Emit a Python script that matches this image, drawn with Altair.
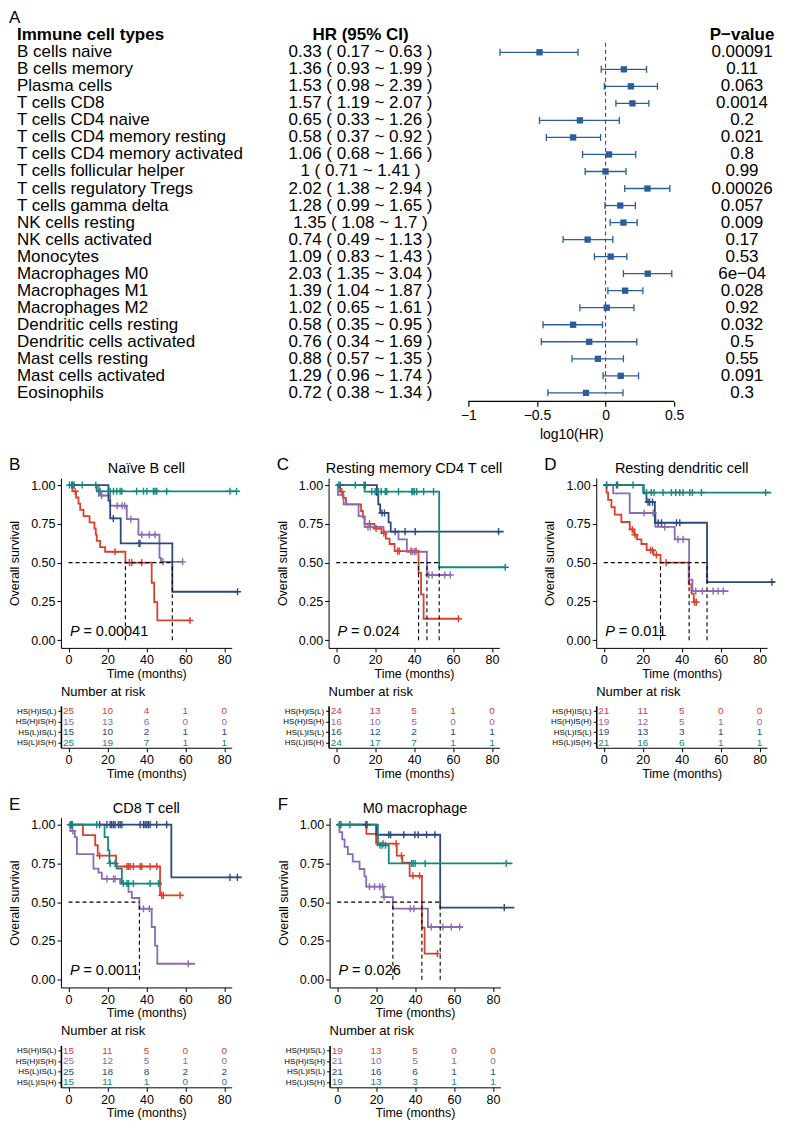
import altair as alt
import pandas as pd

FONT = "Liberation Sans"
BLUE = "#2B5C9B"

# ---------------- Panel A: forest plot data ----------------
cell_types = ["B cells naive", "B cells memory", "Plasma cells", "T cells CD8", "T cells CD4 naive",
              "T cells CD4 memory resting", "T cells CD4 memory activated", "T cells follicular helper",
              "T cells regulatory Tregs", "T cells gamma delta", "NK cells resting", "NK cells activated",
              "Monocytes", "Macrophages M0", "Macrophages M1", "Macrophages M2", "Dendritic cells resting",
              "Dendritic cells activated", "Mast cells resting", "Mast cells activated", "Eosinophils"]
hr = [0.33, 1.36, 1.53, 1.57, 0.65, 0.58, 1.06, 1, 2.02, 1.28, 1.35, 0.74, 1.09, 2.03, 1.39, 1.02,
      0.58, 0.76, 0.88, 1.29, 0.72]
hr_low = [0.17, 0.93, 0.98, 1.19, 0.33, 0.37, 0.68, 0.71, 1.38, 0.99, 1.08, 0.49, 0.83, 1.35, 1.04,
          0.65, 0.35, 0.34, 0.57, 0.96, 0.38]
hr_high = [0.63, 1.99, 2.39, 2.07, 1.26, 0.92, 1.66, 1.41, 2.94, 1.65, 1.7, 1.13, 1.43, 3.04, 1.87,
           1.61, 0.95, 1.69, 1.35, 1.74, 1.34]
p_values = ["0.00091", "0.11", "0.063", "0.0014", "0.2", "0.021", "0.8", "0.99", "0.00026", "0.057",
            "0.009", "0.17", "0.53", "6e\u221204", "0.028", "0.92", "0.032", "0.5", "0.55", "0.091", "0.3"]
forest_ticks = [-1, -0.5, 0, 0.5]

# ---------------- Kaplan-Meier data ----------------
groups = ["HS(H)IS(L)", "HS(H)IS(H)", "HS(L)IS(L)", "HS(L)IS(H)"]
colors = ["#D8412F", "#8A6BB5", "#2C4A7E", "#14877F"]
risk_times = [0, 20, 40, 60, 80]

# each curve: (step times, survival after step, last follow-up time, censor times)
km_B = {
    "HS(H)IS(L)": ([0, 2, 3.9, 5.1, 6, 7.7, 10.8, 13.3, 14, 14.5, 16.2, 18.8, 29.2, 42.7, 44, 45.6],
                   [1, .96, .92, .88, .84, .80, .76, .72, .68, .64, .60, .57, .50, .37, .245, .127],
                   62.4, [3.4, 23.9, 31.3, 32.5, 37.6, 62.4]),
    "HS(H)IS(H)": ([0, 15.5, 21.4, 29.9, 35.9, 46.7, 47.5], [1, .933, .867, .78, .68, .53, .505],
                   58.6, [17, 25, 27.5, 28.8, 32, 37.6, 41.5, 44.4, 48.5, 58.6]),
    "HS(L)IS(L)": ([0, 20.5, 21.4, 26.8, 53.3], [1, .90, .785, .624, .312],
                   86.8, [1.7, 2.8, 23, 36.2, 36.7, 86.8]),
    "HS(L)IS(H)": ([0, 14.5], [1, .96],
                   86.3, [0.5, 2, 7, 14, 16.2, 21.4, 23.1, 24.8, 26.5, 27.4, 35, 38.5, 40.2, 43.6, 44.4,
                          45.3, 50.4, 82.9, 86.3]),
}
km_C = {
    "HS(H)IS(L)": ([0, 2, 3.5, 5, 12.8, 13.7, 14.6, 19.7, 23.3, 25.5, 27.4, 30, 42.3, 43.6, 44.9],
                   [1, .958, .917, .875, .833, .792, .75, .72, .69, .655, .62, .574, .434, .295, .138],
                   62.8, [2.9, 17.1, 20.5, 24.5, 31.5, 32.4, 38.4, 41, 62.8]),
    "HS(H)IS(H)": ([0, 0.9, 3.8, 11.5, 14.6, 24.3, 32, 36.3, 46.6], [1, .9375, .875, .80, .73, .70, .65, .57, .42],
                   58.6, [16.3, 17.5, 39, 40.2, 47.5, 49.3, 55.8, 58.6]),
    "HS(L)IS(L)": ([0, 20.9, 21.6, 22.6, 26.9, 28], [1, .9375, .875, .82, .76, .70],
                   86, [2.1, 14.9, 23.5, 24.8, 30.3, 35.4, 40.6, 83.4]),
    "HS(L)IS(H)": ([0, 14.6, 52.9], [1, .958, .47],
                   86.8, [1.2, 9.8, 14.3, 18.3, 20, 21.7, 23.1, 25.2, 26, 32, 38.9, 39.4, 40.2, 41.4,
                          44.9, 50, 86.8]),
}
km_D = {
    "HS(H)IS(L)": ([0, 1.4, 2.2, 3.9, 5.6, 9, 13.3, 15.5, 17, 19.3, 22, 25.5, 29.1, 43.6, 45, 46.2],
                   [1, .952, .905, .857, .81, .762, .714, .68, .65, .62, .58, .55, .50, .36, .30, .245],
                   48, [14.6, 16, 24, 25, 27, 32, 46.6, 47.5]),
    "HS(H)IS(H)": ([0, 4.8, 13.3, 26.5, 36.4, 43.8, 45.5], [1, .947, .82, .73, .65, .39, .316],
                   64, [20.7, 25.3, 31.3, 38.1, 40.7, 47.2, 50.6, 56.1, 58.7, 61.3]),
    "HS(L)IS(L)": ([0, 20.5, 21.9, 26.2, 53], [1, .947, .89, .757, .374],
                   88, [1.4, 7, 22.7, 23.5, 25, 27.9, 29.6, 37.3, 39, 86.3]),
    "HS(L)IS(H)": ([0, 20.2], [1, .952],
                   86, [1.4, 6.5, 15, 21.9, 24.4, 25.8, 30.4, 34.7, 36.9, 39, 40.7, 44.1, 45.5, 50.1, 83.1]),
}
km_E = {
    "HS(H)IS(L)": ([0, 7.4, 13.7, 15, 24.4, 47], [1, .933, .867, .80, .73, .544],
                   59, [0.9, 16, 30, 30.8, 31.6, 33.3, 36.8, 37.6, 41.9, 45.3, 47.9, 48.7, 57.3]),
    "HS(H)IS(H)": ([0, 1, 3.2, 4.3, 12.8, 15.4, 17.1, 26.5, 30.8, 32.5, 36.4, 42.7, 44.4, 45.6],
                   [1, .96, .92, .81, .716, .69, .65, .62, .566, .527, .458, .34, .22, .103],
                   65, [2.2, 19.7, 23.1, 23.9, 38.5, 41.5, 61.5]),
    "HS(L)IS(L)": ([0, 52.8], [1, .66],
                   89, [1.7, 16, 19.7, 21.4, 22.2, 23.1, 23.9, 25.6, 26.5, 27.4, 36.8, 38.5, 39.3, 40.2,
                        41, 41.9, 45.3, 50.4, 82.9, 86.7]),
    "HS(L)IS(H)": ([0, 18.5, 20.3, 21, 24.8, 27.4], [1, .92, .834, .75, .716, .62],
                   48, [1, 2, 14.5, 21.4, 23.9, 28.2, 30, 30.8, 33.3, 41.9, 46.2]),
}
km_F = {
    "HS(H)IS(L)": ([0, 15, 20, 30.6, 33.4, 37.2, 43.5, 44.9], [1, .94, .877, .80, .755, .67, .335, .168],
                   51.5, [23.6, 30.3, 33, 38.9, 42.3, 51.5]),
    "HS(H)IS(H)": ([0, 1.2, 2.6, 3.8, 5.5, 8, 11.5, 14, 14.9, 23.8, 28.6, 46.6],
                   [1, .952, .905, .857, .81, .762, .714, .667, .60, .533, .458, .34],
                   64.5, [16.6, 19.2, 21.9, 23.3, 24.1, 37.6, 39.4, 48.3, 54.3, 58.6, 62.9]),
    "HS(L)IS(L)": ([0, 20, 52.9], [1, .935, .465],
                   91, [1.2, 14.7, 15.3, 26.5, 27.4, 34.2, 39.9, 41.6, 45.9, 50.2, 85.8]),
    "HS(L)IS(H)": ([0, 20.9, 26.5], [1, .867, .75],
                   90, [1.2, 2, 6.5, 22, 23.1, 24.8, 38.2, 39, 40, 45.2, 86.8]),
}

risk_B = [[25, 10, 4, 1, 0], [15, 13, 6, 0, 0], [15, 10, 2, 1, 1], [25, 19, 7, 1, 1]]
risk_C = [[24, 13, 5, 1, 0], [16, 10, 5, 0, 0], [16, 12, 2, 1, 1], [24, 17, 7, 1, 1]]
risk_D = [[21, 11, 5, 0, 0], [19, 12, 5, 1, 0], [19, 13, 3, 1, 1], [21, 16, 6, 1, 1]]
risk_E = [[15, 11, 5, 0, 0], [25, 12, 5, 1, 0], [25, 18, 8, 2, 2], [15, 11, 1, 0, 0]]
risk_F = [[19, 13, 5, 0, 0], [21, 10, 5, 1, 0], [21, 16, 6, 1, 1], [19, 13, 3, 1, 1]]

panels = [
    ("B", "Na\u00efve B cell", "0.00041", km_B, risk_B),
    ("C", "Resting memory CD4 T cell", "0.024", km_C, risk_C),
    ("D", "Resting dendritic cell", "0.011", km_D, risk_D),
    ("E", "CD8 T cell", "0.0011", km_E, risk_E),
    ("F", "M0 macrophage", "0.026", km_F, risk_F),
]

one = pd.DataFrame({"k": [0]})
CROSS = "M-1,0L1,0M0,-1L0,1"
W, H = 171, 170
LEFT = 52  # how far the KM panels' letter/axis title reach left of their plot area
xsc = alt.Scale(domain=[-3.9, 83.8], nice=False, zero=False)
ysc = alt.Scale(domain=[-0.05, 1.045], nice=False, zero=False)
xax = alt.Axis(values=risk_times, title="Time (months)", labelFontSize=12.5, titleFontSize=12.5,
               tickSize=4, labelPadding=2, titlePadding=1, domainWidth=1, tickWidth=1)
yax = alt.Axis(values=[0, 0.25, 0.5, 0.75, 1], format=".2f", title="Overall survival",
               labelFontSize=12.5, titleFontSize=12.5, tickSize=4, labelPadding=2, titlePadding=9,
               domainWidth=1, tickWidth=1)
col = alt.Color("group:N", scale=alt.Scale(domain=groups, range=colors), legend=None)


def X(f):
    return alt.X(f, scale=xsc, axis=xax)


def Y(f):
    return alt.Y(f, scale=ysc, axis=yax)


def km_data(curves):
    rows, crow, meds = [], [], []
    for g, (t, s, end, cens) in curves.items():
        pts = list(zip(t, s)) + [(end, s[-1])]
        for i, (tt, ss) in enumerate(pts):
            rows.append({"group": g, "t": tt, "s": ss, "i": i})
        for c in cens:
            lvl = s[0]
            for tt, ss in zip(t, s):
                if tt <= c:
                    lvl = ss
            crow.append({"group": g, "t": c, "s": lvl})
        below = [tt for tt, ss in zip(t, s) if ss <= 0.5]
        if below:
            meds.append(below[0])
    return pd.DataFrame(rows), pd.DataFrame(crow), meds


def txt(text, x, y, size, align="left", **kw):
    return alt.Chart(one).mark_text(text=text, fontSize=size, align=align, baseline="middle", **kw).encode(
        x=alt.value(x), y=alt.value(y))


def km_panel(letter, title, pval, curves, risk):
    ldf, cdf, meds = km_data(curves)
    lines = alt.Chart(ldf).mark_line(interpolate="step-after", strokeWidth=1.8).encode(
        x=X("t:Q"), y=Y("s:Q"), color=col, detail="group:N", order="i:Q")
    cens = alt.Chart(cdf).mark_point(shape=CROSS, size=50, strokeWidth=1.4, filled=False, opacity=1).encode(
        x=X("t:Q"), y=Y("s:Q"), color=col)
    layers = [lines, cens]
    if meds:
        vdf = pd.DataFrame({"t": meds, "s": [0.0] * len(meds), "s2": [0.5] * len(meds)})
        hdf = pd.DataFrame({"t": [0.0], "t2": [max(meds)], "s": [0.5]})
        layers.append(alt.Chart(vdf).mark_rule(strokeDash=[4, 3], color="black", strokeWidth=1.1).encode(
            x=X("t:Q"), y=Y("s:Q"), y2="s2:Q"))
        layers.append(alt.Chart(hdf).mark_rule(strokeDash=[4, 3], color="black", strokeWidth=1.1).encode(
            x=X("t:Q"), x2="t2:Q", y=Y("s:Q")))
    layers.append(txt("P", 9, 154, 14.5, fontStyle="italic"))
    layers.append(txt("= " + pval, 22.5, 154, 14.5))
    layers.append(txt(letter, -LEFT, -13, 17))
    layers.append(txt(title, W / 2, -9, 14.5, align="center"))
    km = alt.layer(*layers).properties(width=W, height=H)

    rdf = pd.DataFrame([{"group": g, "t": tt, "n": n}
                        for g, ns in zip(groups, risk) for tt, n in zip(risk_times, ns)])
    rt = alt.Chart(rdf).mark_text(fontSize=10, baseline="middle").encode(
        x=X("t:Q"),
        y=alt.Y("group:N", sort=groups, scale=alt.Scale(domain=groups),
                axis=alt.Axis(title=None, labelFontSize=8, tickSize=3, labelPadding=2, domainWidth=1.6,
                              tickWidth=1)),
        text="n:Q", color=col,
    ).properties(width=W, height=42,
                 title=alt.TitleParams("Number at risk", anchor="start", frame="group", fontSize=13,
                                       fontWeight="normal", offset=7))
    return alt.vconcat(km, rt, spacing=6)


# ---------------- forest chart ----------------
# The concat layout aligns the forest's origin with the KM panels' plot origin (LEFT px in from the
# left edge), so the forest's own content starts at x = -LEFT.
fdf = pd.DataFrame({"cell": cell_types, "hr": hr, "lo": hr_low, "hi": hr_high, "p": p_values})
fdf["hrtxt"] = [f"{a:g} ( {b:g} ~ {c:g} )" for a, b, c in zip(hr, hr_low, hr_high)]
row_keys = ["_A", "_H"] + cell_types
STEP = 17.05
FW, FH = 715, STEP * len(row_keys)
yF = alt.Y("cell:N", sort=row_keys, scale=alt.Scale(type="point", padding=0.5, domain=row_keys), axis=None)
# linear x scale spanning the panel width: -1 sits at 408 px and 0.5 at 614 px
xF_scale = alt.Scale(domain=[-3.9709, 1.2355], nice=False, zero=False)
xF_axis = alt.Axis(values=forest_ticks, format="~g", title="log10(HR)", labelFontSize=14,
                   titleFontSize=14, tickSize=5, labelPadding=2, titlePadding=5, domain=False,
                   tickWidth=1.2, titleX=511)

X_NAME, X_HR, X_P = -44, 300, 682


def XF(f):
    return alt.X(f, scale=xF_scale, axis=xF_axis)


fbase = alt.Chart(fdf).transform_calculate(
    lhr="log(datum.hr)/LN10", llo="log(datum.lo)/LN10", lhi="log(datum.hi)/LN10")
TS = 17
f_names = fbase.mark_text(align="left", baseline="middle", fontSize=TS).encode(
    x=alt.value(X_NAME), y=yF, text="cell:N")
f_hr = fbase.mark_text(align="center", baseline="middle", fontSize=TS).encode(
    x=alt.value(X_HR), y=yF, text="hrtxt:N")
f_p = fbase.mark_text(align="center", baseline="middle", fontSize=TS).encode(
    x=alt.value(X_P), y=yF, text="p:N")
zdf = pd.DataFrame({"z": [0.0]})
f_zero = alt.Chart(zdf).mark_rule(color="#B22222", strokeDash=[4, 3], strokeWidth=1.1).encode(
    x=XF("z:Q"), y=alt.value(STEP * 2 - 1), y2=alt.value(FH - 7))
adf = pd.DataFrame({"a": [min(forest_ticks)], "b": [max(forest_ticks)]})
f_axis_line = alt.Chart(adf).mark_rule(color="black", strokeWidth=1.3).encode(
    x=XF("a:Q"), x2="b:Q", y=alt.value(FH))
f_err = fbase.mark_rule(color=BLUE, strokeWidth=1.3).encode(x=XF("llo:Q"), x2="lhi:Q", y=yF)
f_cap1 = fbase.mark_tick(color=BLUE, thickness=1.3, size=7, opacity=1).encode(x=XF("llo:Q"), y=yF)
f_cap2 = fbase.mark_tick(color=BLUE, thickness=1.3, size=7, opacity=1).encode(x=XF("lhi:Q"), y=yF)
f_pt = fbase.mark_square(size=40, color=BLUE, opacity=1).encode(x=XF("lhr:Q"), y=yF)


def row_text(text, row, x, align="left", **kw):
    return alt.Chart(pd.DataFrame({"cell": [row]})).mark_text(
        text=text, fontSize=kw.pop("size", TS), align=align, baseline="middle", **kw).encode(
        x=alt.value(x), y=yF)


f_h1 = row_text("Immune cell types", "_H", X_NAME, fontWeight="bold")
f_h2 = row_text("HR (95% CI)", "_H", X_HR, align="center", fontWeight="bold")
f_h3 = row_text("P\u2212value", "_H", X_P, align="center", fontWeight="bold")
f_A = row_text("A", "_A", -LEFT, size=17)

forest = alt.layer(f_zero, f_axis_line, f_err, f_cap1, f_cap2, f_pt, f_names, f_hr, f_p,
                   f_h1, f_h2, f_h3, f_A).properties(width=FW, height=FH)

row1 = alt.hconcat(*[km_panel(*p) for p in panels[:3]], spacing=31)
row2 = alt.hconcat(*[km_panel(*p) for p in panels[3:]], spacing=31)

rows = alt.ConcatChart(concat=[row1, row2], columns=1, spacing=16, align="none")
chart = alt.ConcatChart(concat=[forest, rows], columns=1, spacing=14, align="none").properties(
    padding=0
).configure_view(stroke=None).configure_axis(
    grid=False, domainColor="black", tickColor="black", labelColor="black", titleColor="black",
    labelFont=FONT, titleFont=FONT, titleFontWeight="normal"
).configure_text(font=FONT).configure_title(font=FONT, color="black")

chart.save("out.html", embed_options={"renderer": "svg", "actions": False})
